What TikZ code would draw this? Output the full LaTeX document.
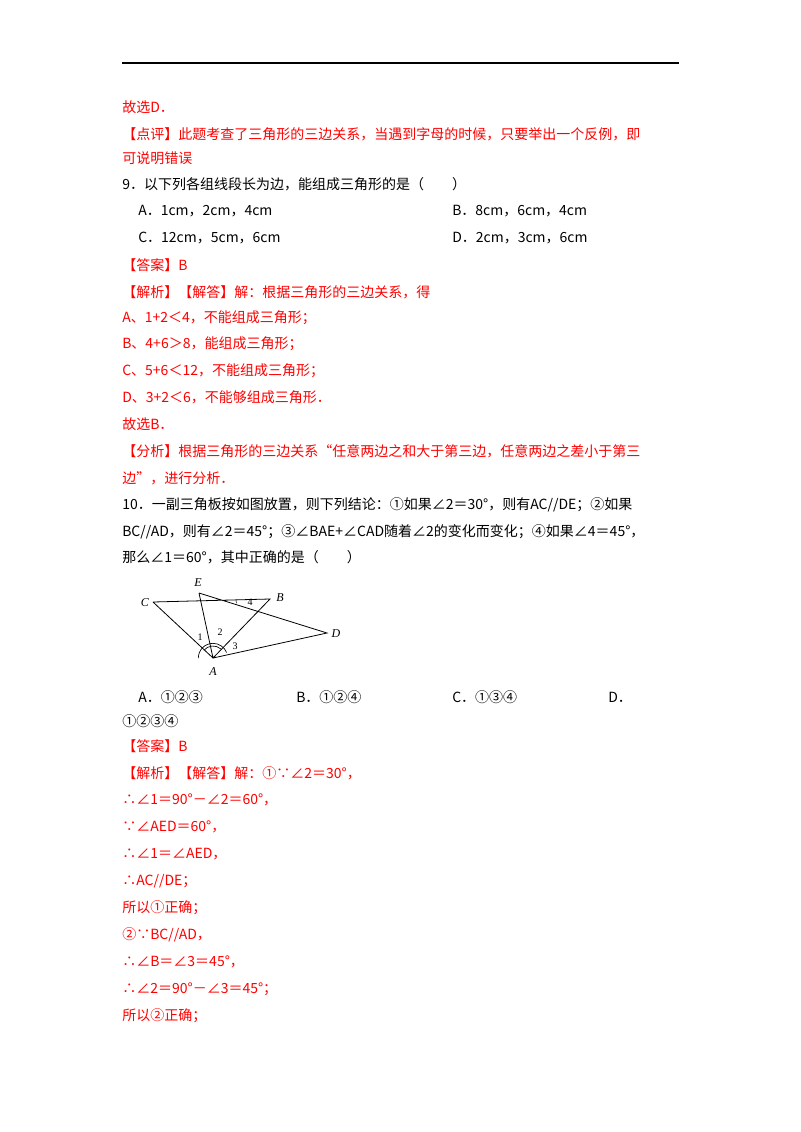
\documentclass[tikz,border=0pt]{standalone}
\usepackage{fontspec}
\setmainfont{Liberation Serif}
\newfontfamily\cjk{Noto Sans CJK SC}
\begin{document}
\begin{tikzpicture}[x=0.75pt,y=-0.75pt,
 t/.style={anchor=west,inner sep=0pt,font=\cjk\fontsize{10.5}{12}\selectfont},
 r/.style={t,text=red},
 pt/.style={inner sep=0pt,font=\itshape\fontsize{9}{10}\selectfont},
 sm/.style={inner sep=0pt,font=\fontsize{7.5}{8}\selectfont}]
\useasboundingbox[fill=white] (0,0) rectangle (800,1132);
\draw[line width=0.8pt] (122,63) -- (679,63);
\node[r] (l1) at (122,107) {故选D．};
\node[r] (l2) at (122,134) {【点评】此题考查了三角形的三边关系，当遇到字母的时候，只要举出一个反例，即};
\node[r] (l3) at (122,158) {可说明错误};
\node[t] (l4) at (122,184) {9．以下列各组线段长为边，能组成三角形的是（\quad\quad）};
\node[t] (o1) at (138,211) {A．1cm，2cm，4cm};
\node[t] (o2) at (452,211) {B．8cm，6cm，4cm};
\node[t] (o3) at (138,238) {C．12cm，5cm，6cm};
\node[t] (o4) at (452,238) {D．2cm，3cm，6cm};
\node[r] (l5) at (122,265) {【答案】B};
\node[r] (l6) at (122,292) {【解析】【解答】解：根据三角形的三边关系，得};
\node[r] (l7) at (122,318) {A、1+2＜4，不能组成三角形；};
\node[r] (l8) at (122,344) {B、4+6＞8，能组成三角形；};
\node[r] (l9) at (122,371) {C、5+6＜12，不能组成三角形；};
\node[r] (l10) at (122,397) {D、3+2＜6，不能够组成三角形．};
\node[r] (l11) at (122,424) {故选B．};
\node[r] (l12) at (122,451) {【分析】根据三角形的三边关系“任意两边之和大于第三边，任意两边之差小于第三};
\node[r] (l13) at (122,478) {边”，进行分析．};
\node[t] (l14) at (122,505) {10．一副三角板按如图放置，则下列结论：①如果∠2＝30°，则有AC//DE；②如果};
\node[t] (l15) at (122,532) {BC//AD，则有∠2＝45°；③∠BAE+∠CAD随着∠2的变化而变化；④如果∠4＝45°，};
\node[t] (l16) at (122,557) {那么∠1＝60°，其中正确的是（\quad\quad）};
% figure
\coordinate (A) at (213,658); \coordinate (C) at (153,602); \coordinate (E) at (199,593);
\coordinate (B) at (270,599); \coordinate (D) at (327,633);
\draw[line width=0.6pt] (C)--(B)--(A)--(C) (E)--(A)--(D)--(E);
\draw[line width=0.5pt] ([shift={(180:11pt)}]A) arc[start angle=180,end angle=22,radius=11pt];
\draw[line width=0.5pt] ([shift={(140:9pt)}]A) arc[start angle=140,end angle=50,radius=9pt];
\draw[line width=0.4pt] (236,600.5) arc[start angle=180,end angle=200,radius=6pt];
\node[pt] (nA) at (213,672) {A}; \node[pt] (nC) at (145,603) {C};
\node[pt] (nE) at (198,583) {E}; \node[pt] (nB) at (280,598) {B};
\node[pt] (nD) at (336,634) {D};
\node[sm] (n1) at (200,637) {1}; \node[sm] (n2) at (220,632) {2};
\node[sm] (n3) at (235,646) {3}; \node[sm] (n4) at (250,602) {4};
\node[t] (p1) at (138,697) {A．①②③};
\node[t] (p2) at (296,697) {B．①②④};
\node[t] (p3) at (452,697) {C．①③④};
\node[t] (p4) at (608,697) {D．};
\node[t] (p5) at (122,721) {①②③④};
\node[r] (m1) at (122,746) {【答案】B};
\node[r] (m2) at (122,773) {【解析】【解答】解：①∵∠2＝30°，};
\node[r] (m3) at (122,800) {∴∠1＝90°－∠2＝60°，};
\node[r] (m4) at (122,827) {∵∠AED＝60°，};
\node[r] (m5) at (122,854) {∴∠1＝∠AED，};
\node[r] (m6) at (122,881) {∴AC//DE；};
\node[r] (m7) at (122,908) {所以①正确；};
\node[r] (m8) at (122,935) {②∵BC//AD，};
\node[r] (m9) at (122,962) {∴∠B＝∠3＝45°，};
\node[r] (m10) at (122,989) {∴∠2＝90°－∠3＝45°；};
\node[r] (m11) at (122,1016) {所以②正确；};
\end{tikzpicture}
\end{document}
